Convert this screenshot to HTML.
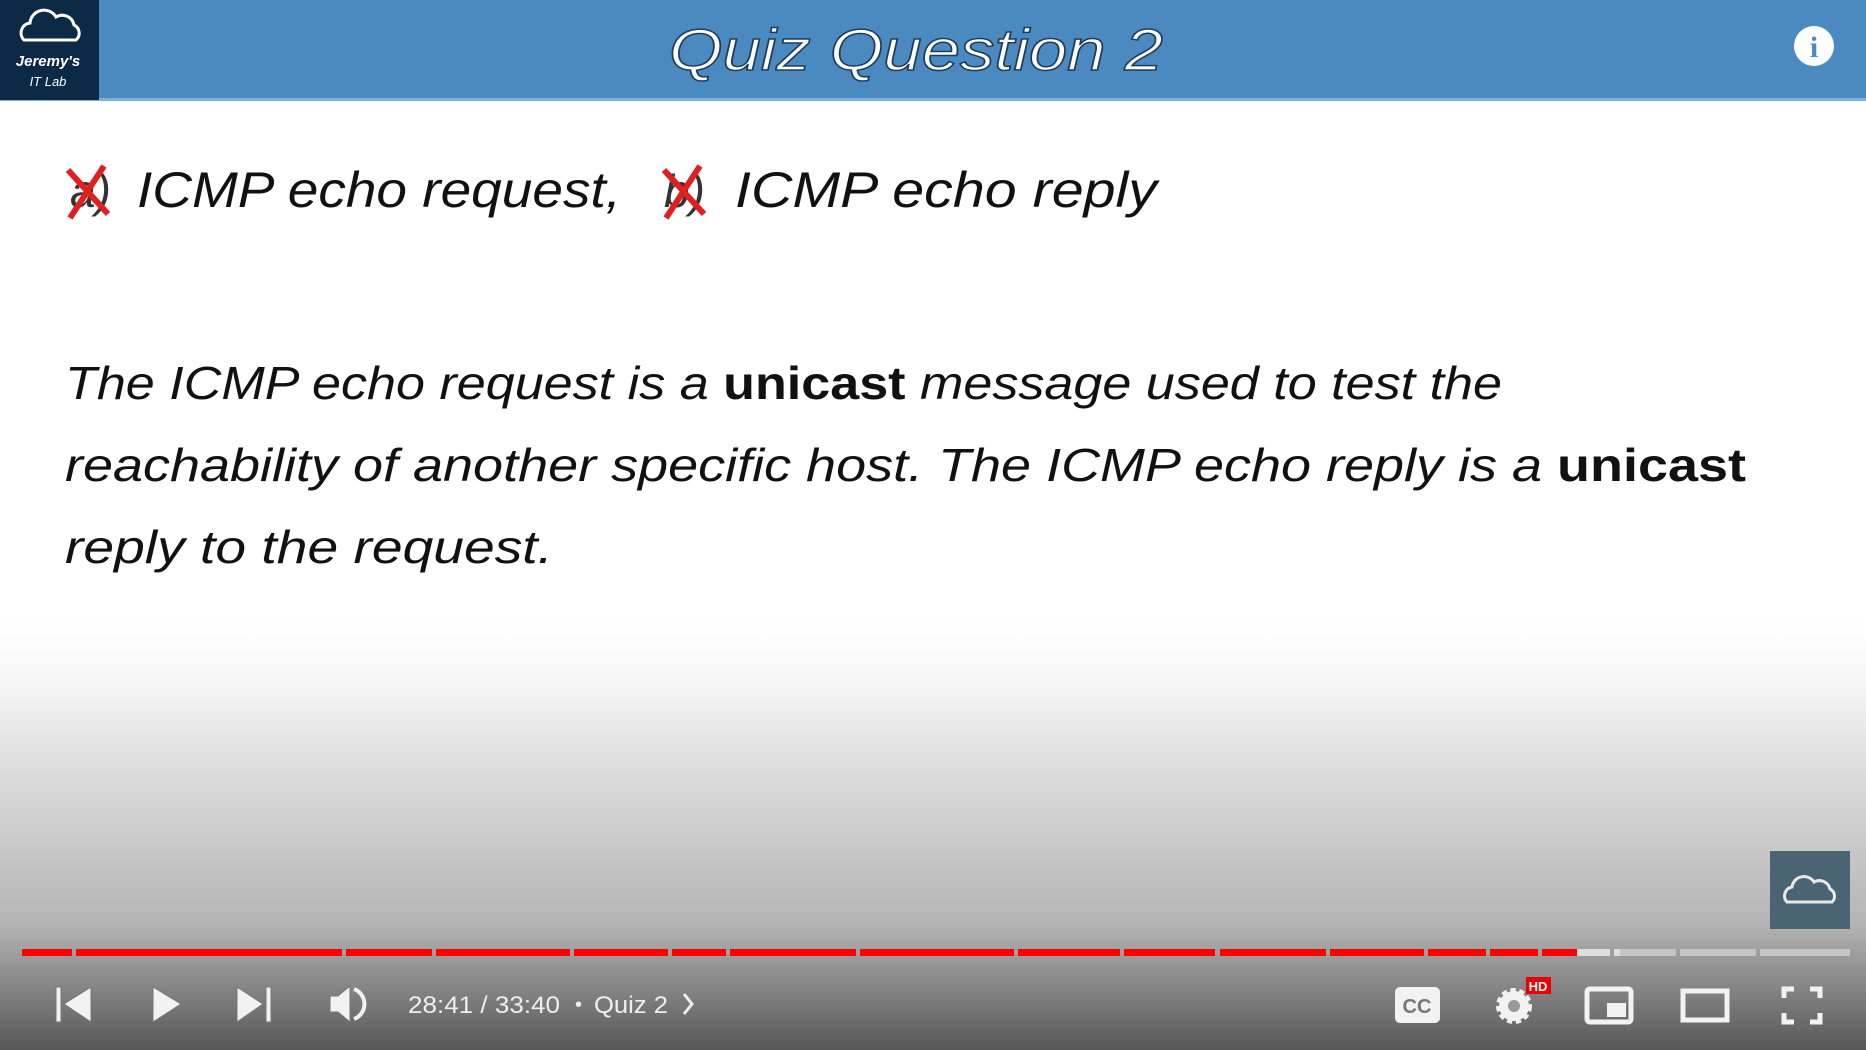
<!DOCTYPE html>
<html><head><meta charset="utf-8"><style>
html,body{margin:0;padding:0;width:1866px;height:1050px;overflow:hidden;background:#fff}
svg{display:block}
.hand{font-family:"Liberation Sans",sans-serif;font-style:italic}
</style></head><body>
<svg width="1866" height="1050" viewBox="0 0 1866 1050">
<defs>
<linearGradient id="fade" x1="0" y1="0" x2="0" y2="1">
<stop offset="0" stop-color="#ffffff" stop-opacity="0"/>
<stop offset="0.3" stop-color="#e6e6e6" stop-opacity="1"/>
<stop offset="0.72" stop-color="#b4b4b4"/>
<stop offset="1" stop-color="#575757"/>
</linearGradient>
</defs>
<rect width="1866" height="1050" fill="#fff"/>
<g>
<rect x="0" y="0" width="1866" height="100" fill="#4a8ac0"/>
<rect x="0" y="98" width="1866" height="3" fill="#7ab0d0"/>
<rect x="0" y="0" width="99" height="100" fill="#0c2945"/>
<g fill="none" stroke="#fff" stroke-width="3">
<path d="M24 40 a10 10 0 0 1 6-17 a14 14 0 0 1 26-6 a12 12 0 0 1 18 8 a9 9 0 0 1 2 15 z"/>
</g>
<text x="48" y="66" text-anchor="middle" fill="#fff" class="hand" font-size="15" font-weight="bold">Jeremy's</text>
<text x="48" y="86" text-anchor="middle" fill="#fff" class="hand" font-size="13">IT Lab</text>
<text x="916" y="70" text-anchor="middle" fill="#fff" stroke="#1e3c5a" stroke-width="1.5" class="hand" font-size="58" textLength="494" lengthAdjust="spacingAndGlyphs">Quiz Question 2</text>
<circle cx="1814" cy="46" r="20" fill="#fff"/>
<text x="1814" y="57" text-anchor="middle" fill="#4a8ac0" font-family="Liberation Serif,serif" font-weight="bold" font-size="30">i</text>
</g>
<g class="hand" fill="#111" font-size="50">
<text x="70" y="207" fill="#333" font-size="46">a)</text>
<path d="M68 170 L108 214 M104 166 L70 218" stroke="#e02020" stroke-width="6" fill="none"/>
<text x="137" y="207" textLength="484" lengthAdjust="spacingAndGlyphs">ICMP echo request,</text>
<text x="664" y="207" fill="#333" font-size="46">b)</text>
<path d="M664 170 L704 214 M700 166 L666 218" stroke="#e02020" stroke-width="6" fill="none"/>
<text x="735" y="207" textLength="422" lengthAdjust="spacingAndGlyphs">ICMP echo reply</text>
</g>
<g class="hand" fill="#111" font-size="46">
<text x="65" y="399" textLength="1437" lengthAdjust="spacingAndGlyphs">The ICMP echo request is a <tspan font-weight="bold" font-style="normal">unicast</tspan> message used to test the</text>
<text x="65" y="481" textLength="1681" lengthAdjust="spacingAndGlyphs">reachability of another specific host.  The ICMP echo reply is a <tspan font-weight="bold" font-style="normal">unicast</tspan></text>
<text x="65" y="563" textLength="488" lengthAdjust="spacingAndGlyphs">reply to the request.</text>
</g>
<rect x="0" y="600" width="1866" height="450" fill="url(#fade)"/>
<g>
<rect x="1770" y="851" width="80" height="78" fill="#4a6473"/>
<path d="M1787 902 a9 9 0 0 1 5-15 a12 12 0 0 1 22-5 a11 11 0 0 1 16 7 a8 8 0 0 1 2 13 z" fill="none" stroke="#e8e8e8" stroke-width="3"/>
</g>
<g id="progress"></g>
<g>
<g fill="#f2f2f2" stroke="#777" stroke-width="1">
<g><rect x="56" y="987" width="5" height="35"/><path d="M91 987 L64 1004 L91 1022 z"/></g>
<path d="M153 987 L181 1004 L153 1022 z"/>
<g><path d="M237 987 L263 1004 L237 1022 z"/><rect x="266" y="987" width="5" height="35"/></g>
<g><path d="M330 996 h8 l12 -10 v36 l-12 -10 h-8 z"/><path d="M354 989 a16 16 0 0 1 0 30" fill="none" stroke="#f2f2f2" stroke-width="4"/></g>
</g>
<text x="408" y="1013" fill="#eee" font-family="Liberation Sans,sans-serif" font-size="24" textLength="152" lengthAdjust="spacingAndGlyphs">28:41 / 33:40</text>
<text x="575" y="1011" fill="#eee" font-family="Liberation Sans,sans-serif" font-size="20">•</text>
<text x="594" y="1013" fill="#eee" font-family="Liberation Sans,sans-serif" font-size="24" textLength="74" lengthAdjust="spacingAndGlyphs">Quiz 2</text>
<path d="M684 994 l8 10 l-8 10" fill="none" stroke="#eee" stroke-width="3"/>
<g><rect x="1395" y="987" width="45" height="36" rx="5" fill="#f2f2f2"/><text x="1417" y="1013" text-anchor="middle" fill="#777" font-family="Liberation Sans,sans-serif" font-weight="bold" font-size="20">CC</text></g>
<g><circle cx="1514" cy="1006" r="15" fill="#f2f2f2" stroke="#f2f2f2" stroke-width="6" stroke-dasharray="5 3.4"/><circle cx="1514" cy="1006" r="6" fill="#999"/>
<rect x="1526" y="977" width="25" height="17" fill="#e00"/><text x="1538" y="991" text-anchor="middle" fill="#fff" font-family="Liberation Sans,sans-serif" font-weight="bold" font-size="13">HD</text></g>
<g><rect x="1587" y="989" width="44" height="33" rx="3" fill="none" stroke="#f2f2f2" stroke-width="5"/><rect x="1607" y="1003" width="19" height="14" fill="#f2f2f2"/></g>
<rect x="1683" y="991" width="44" height="29" fill="none" stroke="#f2f2f2" stroke-width="5"/>
<path d="M1784 998 v-9 h10 M1810 989 h10 v9 M1820 1013 v9 h-10 M1794 1022 h-10 v-9" fill="none" stroke="#f2f2f2" stroke-width="5"/>
</g>
</svg>
<script>
const segStarts=[22,76,346,436,574,672,730,860,1018,1124,1220,1330,1428,1490,1542,1614,1680,1760];
const segEnds=[72,342,432,570,668,726,856,1014,1120,1215,1326,1424,1486,1538,1610,1676,1756,1850];
const playedTo=1577;
const bufferedTo=1614+6;
const g=document.getElementById('progress');
const ns='http://www.w3.org/2000/svg';
for(let i=0;i<segStarts.length;i++){
  const s=segStarts[i],e=segEnds[i];
  const base=document.createElementNS(ns,'rect');
  base.setAttribute('x',s);base.setAttribute('y',949);base.setAttribute('width',e-s);base.setAttribute('height',7);
  base.setAttribute('fill','#c6c6c6');
  
  
  g.appendChild(base);
  const be=Math.min(e,bufferedTo);
  if(be>s){const b=document.createElementNS(ns,'rect');b.setAttribute('x',s);b.setAttribute('y',949);b.setAttribute('width',be-s);b.setAttribute('height',7);b.setAttribute('fill','#dedede');
  
  
  g.appendChild(b);}
  const pe=Math.min(e,playedTo);
  if(pe>s){const r=document.createElementNS(ns,'rect');r.setAttribute('x',s);r.setAttribute('y',949);r.setAttribute('width',pe-s);r.setAttribute('height',7);r.setAttribute('fill','#ff0000');
  
  
  g.appendChild(r);}
}
</script>
</body></html>
